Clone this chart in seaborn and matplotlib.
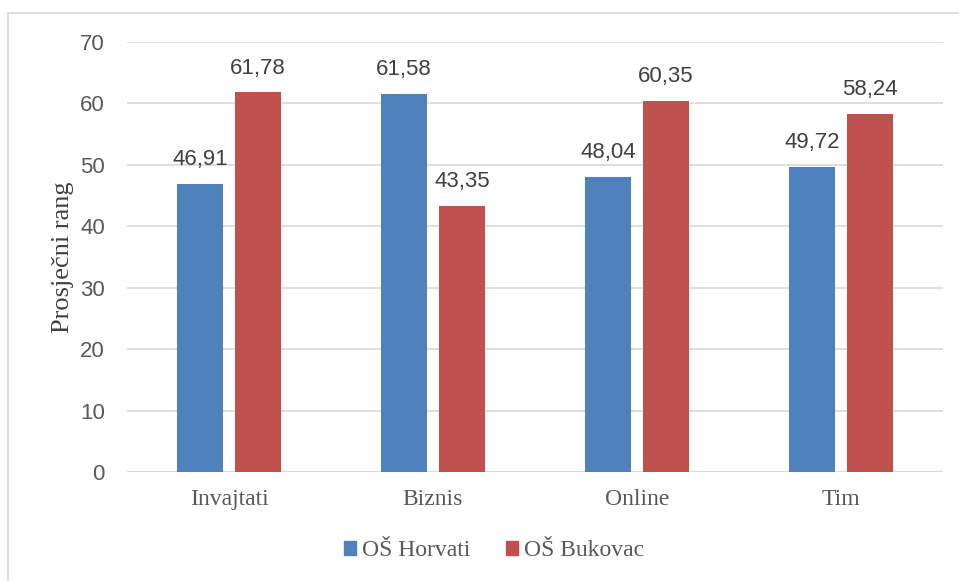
import numpy as np
import pandas as pd
import matplotlib
matplotlib.use('Agg')
import matplotlib.pyplot as plt
import matplotlib.patches as mpatches
from matplotlib.lines import Line2D
import seaborn as sns

# data
categories = ['Invajtati', 'Biznis', 'Online', 'Tim']
schools = ['OŠ Horvati', 'OŠ Bukovac']
horvati = [46.91, 61.58, 48.04, 49.72]
bukovac = [61.78, 43.35, 60.35, 58.24]
y_ticks = [0, 10, 20, 30, 40, 50, 60, 70]

colors = ['#4F81BD', '#C0504D']

df = pd.DataFrame({
    'kategorija': categories * 2,
    'skola': [schools[0]] * 4 + [schools[1]] * 4,
    'rang': horvati + bukovac,
})

sns.set_theme(style='white')
plt.rcParams['font.family'] = ['Liberation Sans', 'DejaVu Sans']

fig = plt.figure(figsize=(9.59, 5.81), dpi=100)
fig.patch.set_facecolor('white')
ax = fig.add_axes([127 / 959, 1 - 472 / 581, 816 / 959, 430 / 581])

sns.barplot(data=df, x='kategorija', y='rang', hue='skola', order=categories,
            hue_order=schools, palette=colors, width=0.57, gap=0.21,
            saturation=1, linewidth=0, ax=ax, legend=False)

for cont in ax.containers:
    ax.bar_label(cont, labels=[f'{v:.2f}'.replace('.', ',') for v in cont.datavalues],
                 padding=10, fontsize=16, color='#404040')

ax.set_ylim(0, 70)
ax.set_xlim(-0.5, 3.5)
ax.set_yticks(y_ticks)
ax.yaxis.grid(True, color='#D9D9D9', linewidth=1.2)
ax.set_axisbelow(True)
for s in ax.spines.values():
    s.set_visible(False)
ax.axhline(0, color='#D9D9D9', linewidth=1.5, zorder=0.5)

ax.tick_params(axis='y', length=0, pad=16, labelsize=16, labelcolor='#595959')
ax.tick_params(axis='x', length=0, pad=12, labelsize=17, labelcolor='#595959')
for t in ax.get_xticklabels():
    t.set_fontfamily('Liberation Serif')

ax.set_xlabel('')
ax.set_ylabel('Prosječni rang', fontfamily='Liberation Serif', fontsize=19,
              color='#404040')
ax.yaxis.set_label_coords(-0.065, 0.5)

handles = [mpatches.Patch(color=c, label=s) for c, s in zip(colors, schools)]
fig.legend(handles=handles, loc='center', bbox_to_anchor=(494 / 959, 1 - 551 / 581),
           ncol=2, frameon=False, handlelength=0.5, handleheight=0.5,
           handletextpad=0.25, columnspacing=1.5,
           prop={'family': 'Liberation Serif', 'size': 17}, labelcolor='#595959')

# outer chart border (left and top visible in the reference)
fig.add_artist(Line2D([8 / 959, 8 / 959], [0, 1 - 13 / 581], color='#D9D9D9', linewidth=1.2))
fig.add_artist(Line2D([8 / 959, 1], [1 - 13 / 581, 1 - 13 / 581], color='#D9D9D9', linewidth=1.2))

fig.savefig('out.png', dpi=100, facecolor='white')
